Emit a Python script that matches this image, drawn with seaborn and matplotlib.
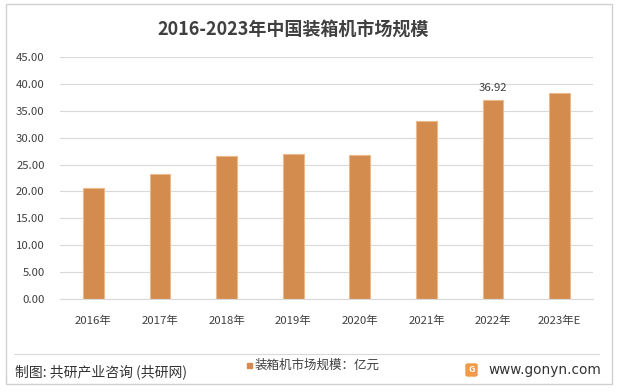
import matplotlib
matplotlib.use('Agg')
import matplotlib.pyplot as plt
import seaborn as sns
import pandas as pd
from matplotlib.patches import Rectangle, FancyBboxPatch

# 数据
years = ['2016年', '2017年', '2018年', '2019年', '2020年', '2021年', '2022年', '2023年E']
market_size = [20.6, 23.2, 26.6, 27.0, 26.8, 33.1, 36.92, 38.3]
yticks = [0, 5, 10, 15, 20, 25, 30, 35, 40, 45]

title = '2016-2023年中国装箱机市场规模'
legend_label = '装箱机市场规模：亿元'
source_text = '制图: 共研产业咨询 (共研网)'
site_text = 'www.gonyn.com'

sns.set_style('white')
plt.rcParams['font.family'] = ['Noto Sans CJK SC', 'DejaVu Sans']

df = pd.DataFrame({'year': years, 'value': market_size})

W, H = 617, 392
fig = plt.figure(figsize=(W / 100, H / 100), dpi=100)
ax = fig.add_axes([60 / W, 1 - 299 / H, (593 - 60) / W, (299 - 57) / H])

bar_color = '#D38B4E'
sns.barplot(data=df, x='year', y='value', color=bar_color, width=0.31,
            edgecolor='#EBB98A', linewidth=0.8, ax=ax, saturation=1)

ax.set_ylim(0, 45)
ax.set_yticks(yticks)
ax.set_yticklabels([f'{v:.2f}' for v in yticks], fontsize=8.2, color='#404040',
                   fontweight='medium')
ax.set_xticks(range(len(years)))
ax.set_xticklabels(years, fontsize=8.2, color='#404040', fontweight='medium')
ax.tick_params(axis='x', length=0, pad=12)
ax.tick_params(axis='y', length=0, pad=11)
ax.set_xlabel('')
ax.set_ylabel('')
ax.grid(axis='y', color='#D9D9D9', linewidth=0.8)
ax.set_axisbelow(True)
for s in ['top', 'right', 'left']:
    ax.spines[s].set_visible(False)
ax.spines['bottom'].set_color('#D9D9D9')
ax.set_xlim(-0.5, len(years) - 0.5)

# 2022 数据标签
i22 = years.index('2022年')
ax.text(i22, market_size[i22] + 1.3, f'{market_size[i22]:.2f}', ha='center', va='bottom',
        fontsize=8.2, color='#404040', fontweight='medium')

# 标题
fig.text(293.5 / W, 1 - 30 / H, title, ha='center', va='center', fontsize=13,
         fontweight='bold', color='#404040')

# 外框和分隔线
fig.patches.append(Rectangle((6 / W, 1 - 384 / H), (612 - 6) / W, (384 - 4) / H, fill=False,
                             edgecolor='#D0D0D0', linewidth=1, transform=fig.transFigure))
fig.lines.append(plt.Line2D([14 / W, 599 / W], [1 - 354 / H, 1 - 354 / H],
                            color='#D9D9D9', linewidth=0.8, transform=fig.transFigure))

# 底部说明
fig.text(15 / W, 1 - 372 / H, source_text, ha='left', va='center', fontsize=10, color='#333333')
fig.patches.append(Rectangle((247 / W, 1 - 368 / H), 5 / W, 5 / H, color=bar_color,
                             transform=fig.transFigure))
fig.text(255 / W, 1 - 365 / H, legend_label, ha='left', va='center', fontsize=9,
         color='#404040', fontweight='medium')

# logo
fig.patches.append(FancyBboxPatch((466 / W, 1 - 376 / H), 11 / W, 12 / H,
                                  boxstyle='round,pad=0,rounding_size=0.003',
                                  color='#F29A45', transform=fig.transFigure))
fig.text(471.5 / W, 1 - 370 / H, 'G', ha='center', va='center', fontsize=6.5,
         fontweight='bold', color='white')
fig.text(488 / W, 1 - 370 / H, site_text, ha='left', va='center', fontsize=9.8, color='#333333',
         family='DejaVu Sans')

fig.savefig('out.png', dpi=100, facecolor='white')
